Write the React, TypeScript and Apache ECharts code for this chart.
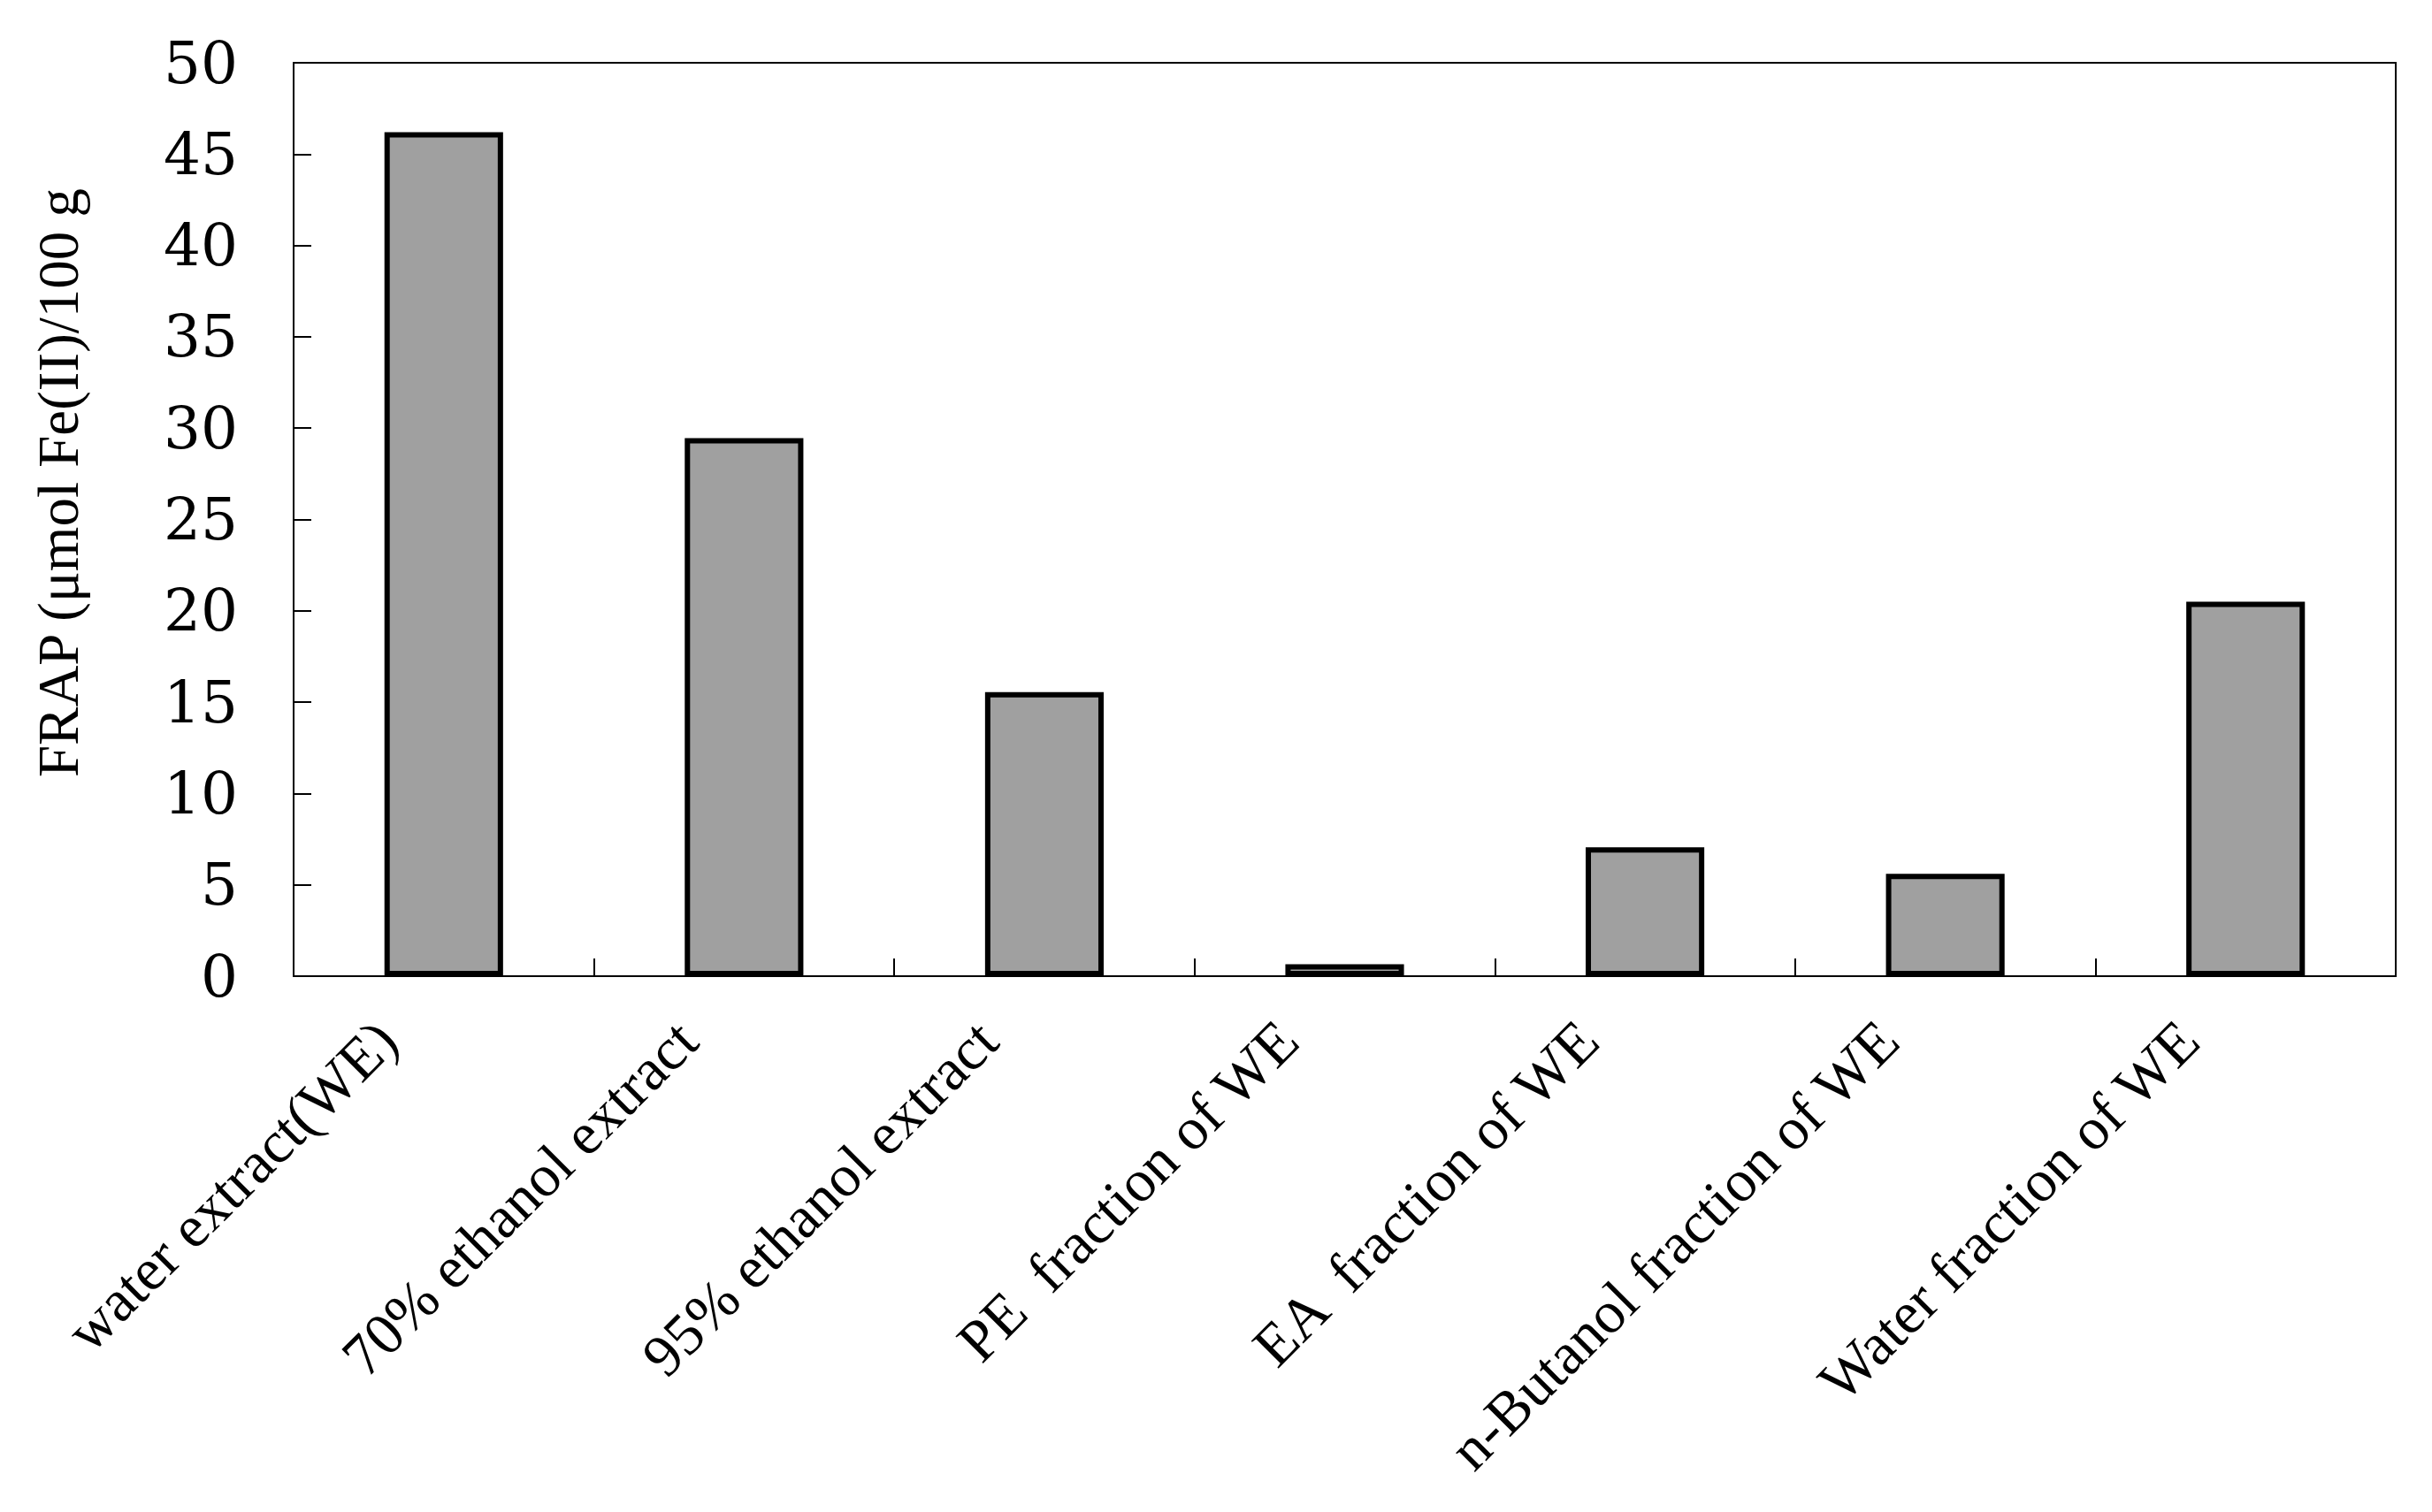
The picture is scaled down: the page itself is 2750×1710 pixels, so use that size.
import React, { useEffect, useRef } from "react";
import * as echarts from "echarts";

const categories = [
  "water extract(WE)",
  "70% ethanol extract",
  "95% ethanol extract",
  "PE  fraction of WE",
  "EA  fraction of WE",
  "n-Butanol fraction of WE",
  "Water fraction of WE",
];
const frapValues = [46.2, 29.45, 15.55, 0.65, 7.05, 5.6, 20.5];
const yAxisTitle = "FRAP (μmol Fe(II)/100 g";

const FONT = '"Liberation Serif", "DejaVu Serif", "Times New Roman", serif';
const NUM_FONT = '"DejaVu Serif", "Liberation Serif", serif';

export default function App() {
  const ref = useRef<HTMLDivElement>(null);
  useEffect(() => {
    document.body.style.margin = "0";
    const chart = echarts.init(ref.current!, null, { renderer: "svg" });
    chart.setOption({
      animation: false,
      backgroundColor: "#ffffff",
      grid: {
        left: 332,
        right: 41,
        top: 71,
        bottom: 606,
        show: true,
        borderColor: "#000",
        borderWidth: 2,
        backgroundColor: "transparent",
      },
      graphic: [
        {
          type: "text",
          x: 66,
          y: 546,
          rotation: Math.PI / 2,
          style: {
            text: yAxisTitle,
            font: `65px ${FONT}`,
            fill: "#000",
            align: "center",
            verticalAlign: "middle",
          },
        },
      ],
      xAxis: {
        type: "category",
        data: categories,
        axisLine: { show: true, lineStyle: { color: "#000", width: 2 } },
        axisTick: {
          show: true,
          inside: true,
          length: 20,
          alignWithLabel: false,
          lineStyle: { color: "#000", width: 2 },
        },
        axisLabel: {
          rotate: 45,
          interval: 0,
          margin: 44,
          align: "right",
          verticalAlign: "bottom",
          padding: [0, 58, 0, 0],
          fontFamily: FONT,
          fontSize: 67,
          color: "#000",
        },
        splitLine: { show: false },
      },
      yAxis: {
        type: "value",
        min: 0,
        max: 50,
        interval: 5,
        axisLine: { show: true, lineStyle: { color: "#000", width: 2 } },
        axisTick: {
          show: true,
          inside: true,
          length: 20,
          lineStyle: { color: "#000", width: 2 },
        },
        axisLabel: {
          margin: 63,
          fontFamily: NUM_FONT,
          fontSize: 66,
          color: "#000",
        },
        splitLine: { show: false },
      },
      series: [
        {
          type: "bar",
          data: frapValues,
          barWidth: "39.5%",
          itemStyle: {
            color: "#a0a0a0",
            borderColor: "#000",
            borderWidth: 6,
          },
        },
      ],
    });
    return () => chart.dispose();
  }, []);
  return <div ref={ref} style={{ width: 2750, height: 1710 }} />;
}
